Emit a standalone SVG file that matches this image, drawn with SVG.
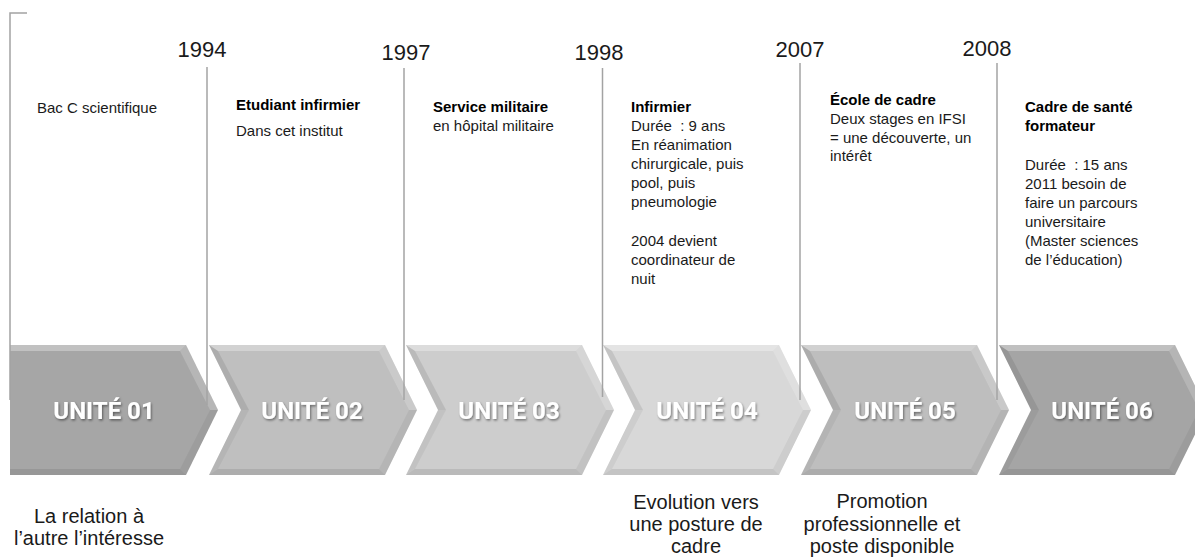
<svg xmlns="http://www.w3.org/2000/svg" width="1195" height="558" viewBox="0 0 1195 558">
<style>
.yr{font-family:"Liberation Sans",Arial,sans-serif;font-size:22px;fill:#1a1a1a;text-anchor:middle}
.tx{font-family:"Liberation Sans",Arial,sans-serif;font-size:15px;fill:#1a1a1a}
.b{font-weight:bold;fill:#000}
.lb{font-family:"Liberation Sans",Arial,sans-serif;font-size:20px;fill:#1a1a1a;text-anchor:middle}
.un{font-family:Roboto,"Liberation Sans",sans-serif;font-weight:bold;font-size:24px;fill:#ffffff;text-anchor:middle;filter:url(#sh)}
.ln{stroke:#a3a3a3;stroke-width:1.5;fill:none}
.hl{fill:#ffffff;opacity:0.3}
.hl2{fill:#ffffff;opacity:0.18}
.dk{fill:#000000;opacity:0.05}
.dk2{fill:#000000;opacity:0.09}
</style>
<defs>
<filter id="sh" x="-20%" y="-40%" width="140%" height="180%">
<feDropShadow dx="1" dy="1.5" stdDeviation="1" flood-color="#000" flood-opacity="0.45"/>
</filter>
<g id="bev">
<polygon class="hl" points="0,345 176,345 170,351 9,351"/>
<polygon class="hl2" points="176,345 208,410 200,410 170,351"/>
<polygon class="dk" points="208,410 176,475 170,469 200,410"/>
<polygon class="dk2" points="176,475 0,475 9,469 170,469"/>
<polygon class="dk" points="0,475 32,410 40,410 9,469"/>
<polygon class="dk2" points="32,410 0,345 9,351 40,410"/>
</g>
</defs>
<rect width="1195" height="558" fill="#ffffff"/>

<g id="unit01">
<polygon points="10,345 186,345 218,410 186,475 10,475" fill="#a6a6a6"/>
<polygon class="hl" points="10,345 186,345 180,351 10,351"/>
<polygon class="hl2" points="186,345 218,410 210,410 180,351"/>
<polygon class="dk" points="218,410 186,475 180,469 210,410"/>
<polygon class="dk2" points="186,475 10,475 10,469 180,469"/>
<text class="un" x="104" y="419">UNITÉ 01</text>
</g>
<g id="unit02">
<polygon points="209,345 385,345 417,410 385,475 209,475 241,410" fill="#bfbfbf"/>
<use href="#bev" x="209"/>
<text class="un" x="312" y="419">UNITÉ 02</text>
</g>
<g id="unit03">
<polygon points="406,345 582,345 614,410 582,475 406,475 438,410" fill="#cdcdcd"/>
<use href="#bev" x="406"/>
<text class="un" x="509" y="419">UNITÉ 03</text>
</g>
<g id="unit04">
<polygon points="603,345 779,345 811,410 779,475 603,475 635,410" fill="#d8d8d8"/>
<use href="#bev" x="603"/>
<text class="un" x="707" y="419">UNITÉ 04</text>
</g>
<g id="unit05">
<polygon points="801,345 977,345 1009,410 977,475 801,475 833,410" fill="#bebebe"/>
<use href="#bev" x="801"/>
<text class="un" x="905" y="419">UNITÉ 05</text>
</g>
<g id="unit06">
<polygon points="999,345 1175,345 1207,410 1175,475 999,475 1031,410" fill="#a5a5a5"/>
<use href="#bev" x="999"/>
<text class="un" x="1102" y="419">UNITÉ 06</text>
</g>

<g id="connectors">
<path class="ln" d="M27,13 H10 V400"/>
<line class="ln" x1="207" y1="67" x2="207" y2="405"/>
<line class="ln" x1="404" y1="68" x2="404" y2="400"/>
<line class="ln" x1="602.5" y1="68" x2="602.5" y2="397"/>
<line class="ln" x1="800" y1="63" x2="800" y2="400"/>
<line class="ln" x1="997" y1="63" x2="997" y2="400"/>
</g>

<g id="years">
<text class="yr" x="202" y="57">1994</text>
<text class="yr" x="406" y="60">1997</text>
<text class="yr" x="599" y="60">1998</text>
<text class="yr" x="800" y="57">2007</text>
<text class="yr" x="987" y="56">2008</text>
</g>

<g id="desc01"><text class="tx" x="37" y="113">Bac C scientifique</text></g>
<g id="desc02">
<text class="tx b" x="236" y="110">Etudiant infirmier</text>
<text class="tx" x="236" y="136">Dans cet institut</text>
</g>
<g id="desc03">
<text class="tx b" x="433" y="112">Service militaire</text>
<text class="tx" x="433" y="131">en hôpital militaire</text>
</g>
<g id="desc04">
<text class="tx b" x="631" y="112">Infirmier</text>
<text class="tx" x="631" y="131" xml:space="preserve">Durée  : 9 ans</text>
<text class="tx" x="631" y="150">En réanimation</text>
<text class="tx" x="631" y="169">chirurgicale, puis</text>
<text class="tx" x="631" y="188">pool, puis</text>
<text class="tx" x="631" y="207">pneumologie</text>
<text class="tx" x="631" y="246">2004 devient</text>
<text class="tx" x="631" y="265">coordinateur de</text>
<text class="tx" x="631" y="284">nuit</text>
</g>
<g id="desc05">
<text class="tx b" x="830" y="105">École de cadre</text>
<text class="tx" x="830" y="124">Deux stages en IFSI</text>
<text class="tx" x="830" y="143">= une découverte, un</text>
<text class="tx" x="830" y="161">intérêt</text>
</g>
<g id="desc06">
<text class="tx b" x="1025" y="112">Cadre de santé</text>
<text class="tx b" x="1025" y="131">formateur</text>
<text class="tx" x="1025" y="170" xml:space="preserve">Durée  : 15 ans</text>
<text class="tx" x="1025" y="189">2011 besoin de</text>
<text class="tx" x="1025" y="208">faire un parcours</text>
<text class="tx" x="1025" y="227">universitaire</text>
<text class="tx" x="1025" y="246">(Master sciences</text>
<text class="tx" x="1025" y="265">de l’éducation)</text>
</g>

<g id="note01">
<text class="lb" x="89" y="523">La relation à</text>
<text class="lb" x="89" y="545">l’autre l’intéresse</text>
</g>
<g id="note04">
<text class="lb" x="696" y="509">Evolution vers</text>
<text class="lb" x="696" y="531">une posture de</text>
<text class="lb" x="696" y="553">cadre</text>
</g>
<g id="note05">
<text class="lb" x="882" y="508">Promotion</text>
<text class="lb" x="882" y="531">professionnelle et</text>
<text class="lb" x="882" y="553">poste disponible</text>
</g>
</svg>
